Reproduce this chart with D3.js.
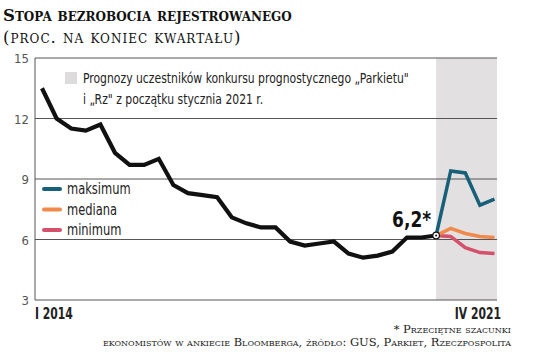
<!DOCTYPE html>
<html>
<head>
<meta charset="utf-8">
<script src="https://cdn.jsdelivr.net/npm/d3@7"></script>
<style>
  body { margin: 0; background: #fff; }
  svg { display: block; }
</style>
</head>
<body>
<svg id="chart"></svg>
<script>
// quarters I 2014 .. IV 2021
const quarters = [
  'I 2014', 'II 2014', 'III 2014', 'IV 2014',
  'I 2015', 'II 2015', 'III 2015', 'IV 2015',
  'I 2016', 'II 2016', 'III 2016', 'IV 2016',
  'I 2017', 'II 2017', 'III 2017', 'IV 2017',
  'I 2018', 'II 2018', 'III 2018', 'IV 2018',
  'I 2019', 'II 2019', 'III 2019', 'IV 2019',
  'I 2020', 'II 2020', 'III 2020', 'IV 2020',
  'I 2021', 'II 2021', 'III 2021', 'IV 2021'
];

// actual rate, I 2014 .. IV 2020
const actual = [
  13.5, 12.0, 11.5, 11.4, 11.7, 10.3, 9.7, 9.7,
  10.0, 8.7, 8.3, 8.2, 8.1, 7.1, 6.8, 6.6,
  6.6, 5.9, 5.7, 5.8, 5.9, 5.3, 5.1, 5.2,
  5.4, 6.1, 6.1, 6.2
];

// forecasts, IV 2020 (start) .. IV 2021
const forecastQuarters = ['IV 2020', 'I 2021', 'II 2021', 'III 2021', 'IV 2021'];
const maksimum = [6.2, 9.4, 9.3, 7.7, 8.0];
const mediana = [6.2, 6.55, 6.3, 6.15, 6.1];
const minimum = [6.2, 6.15, 5.6, 5.35, 5.3];

const yTicks = [3, 6, 9, 12, 15];

const width = 536, height = 358;
const svg = d3.select('#chart').attr('width', width).attr('height', height);

const plotLeft = 35, plotRight = 497, plotTop = 58, plotBottom = 300;

const x = d3.scalePoint().domain(quarters).range([42, 494.5]);
const y = d3.scaleLinear().domain([3, 15]).range([plotBottom, plotTop]);

const condensed = '"Liberation Sans Narrow", "DejaVu Sans Condensed", sans-serif';
const serif = '"DejaVu Serif", "Liberation Serif", serif';

// title
svg.append('text')
  .attr('x', 3).attr('y', 21)
  .attr('font-family', serif)
  .attr('font-weight', 'bold')
  .attr('font-size', 16.5)
  .style('font-variant', 'small-caps')
  .attr('fill', '#111')
  .text('Stopa bezrobocia rejestrowanego');

svg.append('text')
  .attr('x', 3).attr('y', 43)
  .attr('font-family', serif)
  .attr('font-size', 16.5)
  .attr('letter-spacing', 1)
  .style('font-variant', 'small-caps')
  .attr('fill', '#111')
  .text('(proc. na koniec kwartału)');

// forecast band
svg.append('rect')
  .attr('x', x('IV 2020'))
  .attr('y', plotTop)
  .attr('width', plotRight - x('IV 2020'))
  .attr('height', plotBottom - plotTop)
  .attr('fill', '#e3e0e2');

// grid lines
svg.append('g')
  .selectAll('line')
  .data(yTicks)
  .join('line')
  .attr('x1', plotLeft).attr('x2', plotRight)
  .attr('y1', d => y(d)).attr('y2', d => y(d))
  .attr('stroke', '#555')
  .attr('stroke-width', 1);

svg.append('line')
  .attr('x1', plotLeft).attr('x2', plotLeft)
  .attr('y1', plotTop).attr('y2', plotBottom)
  .attr('stroke', '#555');

svg.append('g')
  .selectAll('text')
  .data(yTicks)
  .join('text')
  .attr('x', 29)
  .attr('y', d => y(d) + 5)
  .attr('text-anchor', 'end')
  .attr('font-family', condensed)
  .attr('font-size', 13)
  .attr('fill', '#555')
  .text(d => d);

// x labels (squeezed to the narrow newspaper face)
svg.append('text')
  .attr('transform', `translate(${plotLeft},319) scale(0.8,1)`)
  .attr('font-family', condensed)
  .attr('font-size', 15)
  .attr('font-weight', 'bold')
  .attr('fill', '#222')
  .text(quarters[0]);

svg.append('text')
  .attr('transform', 'translate(501,319) scale(0.8,1)')
  .attr('text-anchor', 'end')
  .attr('font-family', condensed)
  .attr('font-size', 15)
  .attr('font-weight', 'bold')
  .attr('fill', '#222')
  .text(quarters[quarters.length - 1]);

// band legend
svg.append('rect')
  .attr('x', 65).attr('y', 72)
  .attr('width', 12).attr('height', 12)
  .attr('fill', '#dedbdd');

const bandNote = svg.append('text')
  .attr('transform', 'translate(83,0) scale(0.86,1)')
  .attr('font-family', condensed)
  .attr('font-size', 14)
  .attr('fill', '#222');
bandNote.append('tspan').attr('x', 0).attr('y', 83)
  .text('Prognozy uczestników konkursu prognostycznego „Parkietu"');
bandNote.append('tspan').attr('x', 0).attr('y', 104)
  .text('i „Rz" z początku stycznia 2021 r.');

// lines
const line = d3.line()
  .x(d => x(d.q))
  .y(d => y(d.v));

const series = [
  { name: 'minimum', values: minimum, color: '#d4506b' },
  { name: 'mediana', values: mediana, color: '#f0894a' },
  { name: 'maksimum', values: maksimum, color: '#17607a' }
];

series.forEach(s => {
  svg.append('path')
    .datum(s.values.map((v, i) => ({ q: forecastQuarters[i], v })))
    .attr('d', line)
    .attr('fill', 'none')
    .attr('stroke', s.color)
    .attr('stroke-width', 3.5)
    .attr('stroke-linejoin', 'miter');
});

svg.append('path')
  .datum(actual.map((v, i) => ({ q: quarters[i], v })))
  .attr('d', line)
  .attr('fill', 'none')
  .attr('stroke', '#111')
  .attr('stroke-width', 4.2)
  .attr('stroke-linejoin', 'miter');

// last actual point marker
const lastQ = quarters[actual.length - 1];
const lastV = actual[actual.length - 1];
svg.append('circle')
  .attr('cx', x(lastQ)).attr('cy', y(lastV))
  .attr('r', 3.3)
  .attr('fill', '#fff')
  .attr('stroke', '#111')
  .attr('stroke-width', 1.2);
svg.append('circle')
  .attr('cx', x(lastQ)).attr('cy', y(lastV))
  .attr('r', 1)
  .attr('fill', '#111');

svg.append('text')
  .attr('transform', `translate(${x(lastQ) - 5},${y(lastV) - 8}) scale(0.9,1)`)
  .attr('text-anchor', 'end')
  .attr('font-family', condensed)
  .attr('font-weight', 'bold')
  .attr('font-size', 21)
  .attr('fill', '#111')
  .text('6,2*');

// series legend
const legendItems = [
  { name: 'maksimum', color: '#17607a' },
  { name: 'mediana', color: '#f0894a' },
  { name: 'minimum', color: '#d4506b' }
];
const legendG = svg.append('g');
legendItems.forEach((d, i) => {
  const ly = 189 + i * 20.5;
  legendG.append('line')
    .attr('x1', 44).attr('x2', 60)
    .attr('y1', ly).attr('y2', ly)
    .attr('stroke', d.color)
    .attr('stroke-width', 4)
    .attr('stroke-linecap', 'round');
  legendG.append('text')
    .attr('transform', `translate(67,${ly + 5}) scale(0.85,1)`)
    .attr('font-family', condensed)
    .attr('font-size', 15)
    .attr('fill', '#222')
    .text(d.name);
});

// footer
const footer = svg.append('text')
  .attr('text-anchor', 'end')
  .attr('font-family', serif)
  .attr('font-size', 11.5)
  .style('font-variant', 'small-caps')
  .attr('fill', '#222');
footer.append('tspan').attr('x', 511).attr('y', 333).text('* Przeciętne szacunki');
footer.append('tspan').attr('x', 511).attr('y', 346)
  .text('ekonomistów w ankiecie Bloomberga, źródło: GUS, Parkiet, Rzeczpospolita');
</script>
</body>
</html>
